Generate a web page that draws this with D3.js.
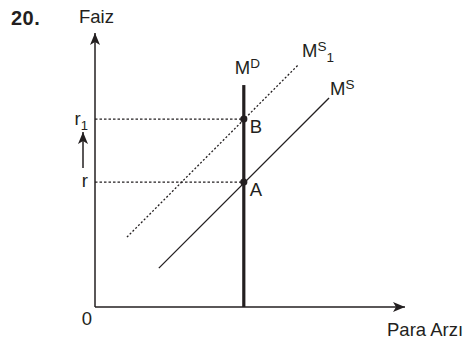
<!DOCTYPE html>
<html>
<head>
<meta charset="utf-8">
<script src="https://cdn.jsdelivr.net/npm/d3@7"></script>
<style>
  body { margin: 0; background: #fff; }
  svg text { font-family: "Liberation Sans", Arial, Helvetica, sans-serif; fill: #231f20; }
</style>
</head>
<body>
<div id="chart"></div>
<script>
// chart values (abstract units on 0..100 axes)
var demandX = 48;                 // M^D vertical position
var demandTop = 81;
var rates = [45.6, 68.6];         // r, r1
var rateLabels = ["r", "r"];
var rateSubs = ["", "1"];
var supply = [[20.6, 14.2], [75.5, 76.3]];     // M^S
var supply1 = [[10.3, 25.5], [65.5, 88.3]];    // M^S_1
var pointLabels = ["A", "B"];

var width = 468, height = 345;
var ink = "#231f20";
var fs = 18.5;

var x = d3.scaleLinear().domain([0, 100]).range([95, 405]);
var y = d3.scaleLinear().domain([0, 100]).range([307, 33]);

var svg = d3.select("#chart").append("svg")
  .attr("width", width)
  .attr("height", height);

var defs = svg.append("defs");
defs.append("marker")
  .attr("id", "arr")
  .attr("viewBox", "0 0 12 10")
  .attr("refX", 12).attr("refY", 5)
  .attr("markerWidth", 12).attr("markerHeight", 10)
  .attr("markerUnits", "userSpaceOnUse")
  .attr("orient", "auto")
  .append("path")
  .attr("d", "M0,0 L12,5 L0,10 L3,5 Z")
  .attr("fill", ink);

// axes
svg.append("line")
  .attr("x1", x(0)).attr("y1", y(0))
  .attr("x2", x(100)).attr("y2", y(0))
  .attr("stroke", ink).attr("stroke-width", 1.5)
  .attr("marker-end", "url(#arr)");
svg.append("line")
  .attr("x1", x(0)).attr("y1", y(0))
  .attr("x2", x(0)).attr("y2", y(100))
  .attr("stroke", ink).attr("stroke-width", 1.5)
  .attr("marker-end", "url(#arr)");

// dotted guides to rates
svg.selectAll("line.guide")
  .data(rates)
  .enter().append("line")
  .attr("class", "guide")
  .attr("x1", x(0)).attr("x2", x(demandX))
  .attr("y1", function(d) { return y(d); })
  .attr("y2", function(d) { return y(d); })
  .attr("stroke", ink).attr("stroke-width", 1.2)
  .attr("stroke-dasharray", "2.5,2");

// supply curves
svg.append("line")
  .attr("x1", x(supply1[0][0])).attr("y1", y(supply1[0][1]))
  .attr("x2", x(supply1[1][0])).attr("y2", y(supply1[1][1]))
  .attr("stroke", ink).attr("stroke-width", 1.3)
  .attr("stroke-dasharray", "2,2");
svg.append("line")
  .attr("x1", x(supply[0][0])).attr("y1", y(supply[0][1]))
  .attr("x2", x(supply[1][0])).attr("y2", y(supply[1][1]))
  .attr("stroke", ink).attr("stroke-width", 1.3);

// money demand
svg.append("line")
  .attr("x1", x(demandX)).attr("y1", y(0))
  .attr("x2", x(demandX)).attr("y2", y(demandTop))
  .attr("stroke", ink).attr("stroke-width", 3.2);

// equilibrium points
svg.selectAll("circle.eq")
  .data(rates)
  .enter().append("circle")
  .attr("class", "eq")
  .attr("cx", x(demandX))
  .attr("cy", function(d) { return y(d); })
  .attr("r", 3.6)
  .attr("fill", ink);

svg.selectAll("text.pt")
  .data(rates)
  .enter().append("text")
  .attr("class", "pt")
  .attr("x", x(demandX) + 6)
  .attr("y", function(d) { return y(d) + 14; })
  .attr("font-size", fs)
  .text(function(d, i) { return pointLabels[i]; });

// rate labels
var rl = svg.selectAll("text.rate")
  .data(rates)
  .enter().append("text")
  .attr("class", "rate")
  .attr("text-anchor", "end")
  .attr("x", function(d, i) { return i ? x(0) - 7 : x(0) - 7; })
  .attr("y", function(d, i) { return y(d) + (rateSubs[i] ? 6 : 5); })
  .attr("font-size", fs);
rl.text(function(d, i) { return rateLabels[i]; });
rl.append("tspan")
  .attr("font-size", 13)
  .attr("dy", 5)
  .text(function(d, i) { return rateSubs[i]; });

// arrow r -> r1
svg.append("line")
  .attr("x1", 83).attr("x2", 83)
  .attr("y1", y(rates[0]) - 14)
  .attr("y2", y(rates[1]) + 13)
  .attr("stroke", ink).attr("stroke-width", 1.5)
  .attr("marker-end", "url(#arr)");

// curve labels
var md = svg.append("text")
  .attr("x", x(demandX) - 9).attr("y", y(demandTop) - 11)
  .attr("font-size", fs).text("M");
md.append("tspan").attr("font-size", 13.5).attr("dy", -6).text("D");

var ms = svg.append("text")
  .attr("x", x(supply[1][0]) + 1).attr("y", y(supply[1][1]) - 3)
  .attr("font-size", fs).text("M");
ms.append("tspan").attr("font-size", 13.5).attr("dy", -6).text("S");

var ms1 = svg.append("text")
  .attr("x", x(supply1[1][0]) + 4).attr("y", y(supply1[1][1]) - 8)
  .attr("font-size", fs).text("M");
ms1.append("tspan").attr("font-size", 13.5).attr("dy", -6).text("S");
ms1.append("tspan").attr("font-size", 13.5).attr("dy", 11).text("1");

// axis titles
svg.append("text")
  .attr("x", 79).attr("y", 23)
  .attr("font-size", fs).text("Faiz");
svg.append("text")
  .attr("x", 387).attr("y", 336)
  .attr("font-size", fs).text("Para Arzı");
svg.append("text")
  .attr("x", x(0) - 8).attr("y", y(0) + 18)
  .attr("text-anchor", "middle")
  .attr("font-size", fs).text("0");

svg.append("text")
  .attr("x", 11).attr("y", 25)
  .attr("font-size", 20).attr("font-weight", "bold")
  .attr("letter-spacing", 0.5)
  .text("20.");
</script>
</body>
</html>
